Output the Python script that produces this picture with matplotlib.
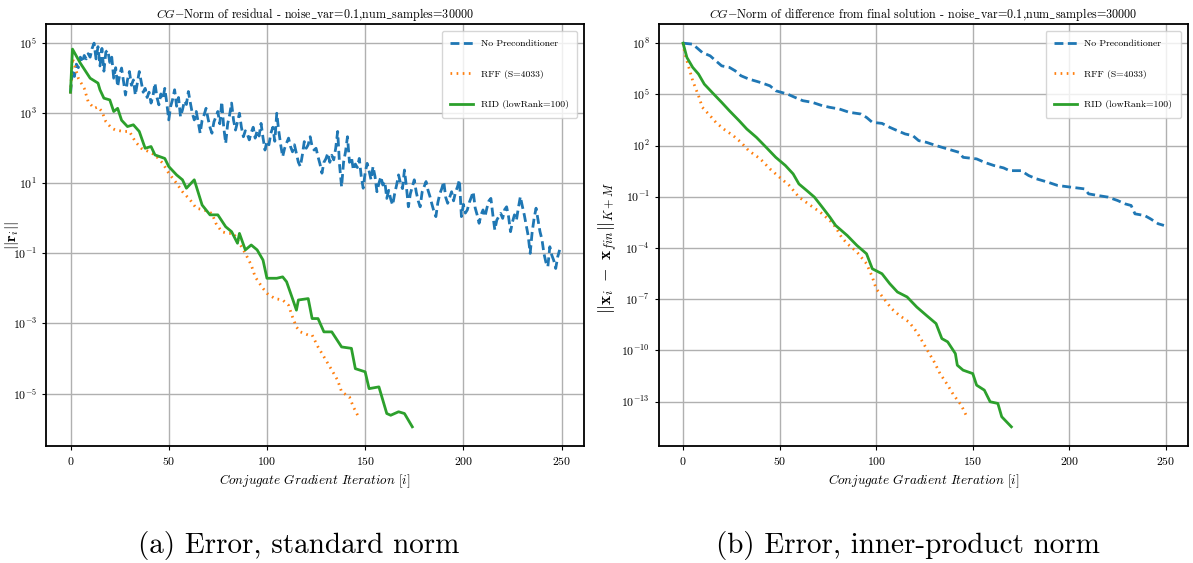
import matplotlib
matplotlib.use("Agg")
import matplotlib.pyplot as plt
import numpy as np
from matplotlib.ticker import FixedLocator, NullLocator

plt.rcParams['font.family'] = ['cmr10', 'DejaVu Serif']
plt.rcParams['mathtext.fontset'] = 'cm'
plt.rcParams['axes.formatter.use_mathtext'] = True
plt.rcParams['axes.unicode_minus'] = False

# ---- data (log10 of the norm) ----
# (a) residual norm, no preconditioner: one value per CG iteration 0..249
res_none_log = [
    3.57, 4.25, 4.05, 4.40, 4.30, 4.60, 4.45, 4.65, 4.55, 4.70,
    4.60, 4.85, 5.00, 4.55, 4.90, 4.35, 4.85, 4.20, 4.75, 4.80,
    4.45, 4.60, 4.00, 4.30, 3.76, 4.10, 4.29, 3.90, 3.52, 3.95,
    4.19, 3.80, 3.95, 3.52, 3.85, 4.19, 3.90, 3.60, 3.71, 3.45,
    3.60, 3.29, 3.50, 3.86, 3.45, 3.24, 3.55, 3.40, 3.71, 3.30,
    2.81, 3.20, 3.40, 3.67, 3.20, 3.45, 2.90, 3.10, 3.35, 3.25,
    3.62, 3.30, 3.00, 2.81, 3.05, 2.75, 2.43, 2.80, 2.95, 3.14,
    2.85, 2.60, 2.43, 2.75, 2.90, 3.05, 2.70, 3.33, 2.60, 2.14,
    2.70, 2.95, 3.29, 2.80, 2.52, 2.75, 3.00, 2.60, 2.33, 2.50,
    2.40, 2.24, 2.45, 2.60, 2.29, 2.50, 2.35, 2.71, 2.30, 1.95,
    2.20, 2.10, 2.43, 2.60, 2.20, 3.00, 2.50, 2.10, 1.76, 2.00,
    2.15, 2.29, 2.05, 1.90, 2.10, 1.85, 1.60, 1.48, 1.80, 2.19,
    2.00, 2.10, 2.33, 2.05, 1.95, 2.00, 1.76, 1.55, 1.29, 1.60,
    1.70, 1.86, 1.60, 1.80, 1.67, 2.00, 2.48, 1.50, 0.90, 1.60,
    1.90, 2.33, 1.60, 1.75, 1.38, 1.55, 1.45, 1.71, 1.20, 0.86,
    1.30, 1.57, 1.35, 1.10, 1.48, 1.20, 0.76, 1.00, 1.19, 0.95,
    1.05, 0.57, 0.80, 0.55, 0.38, 0.70, 0.95, 1.24, 1.00, 0.85,
    1.38, 0.90, 0.33, 0.70, 0.90, 1.10, 0.75, 0.50, 0.33, 0.75,
    0.90, 1.05, 0.80, 0.62, 0.40, 0.20, 0.05, 0.45, 0.70, 0.85,
    1.05, 0.60, 0.43, 0.60, 0.76, 0.50, 0.75, 0.90, 1.10, 0.05,
    0.40, 0.15, 0.24, 0.45, 0.60, 0.76, 0.30, 0.10, -0.14, 0.10,
    0.24, 0.05, 0.30, 0.50, 0.57, 0.10, -0.33, -0.05, 0.05, 0.14,
    0.00, 0.25, 0.33, 0.05, -0.38, -0.10, 0.10, -0.05, 0.30, 0.62,
    0.35, 0.10, -0.20, -0.50, -1.00, -0.40, 0.00, 0.29, -0.05, -0.38,
    -0.60, -1.00, -1.25, -1.38, -0.81, -1.05, -1.20, -1.43, -1.10, -0.90,
]

res_rff_it = [0, 1, 4, 7, 9, 12, 14, 16, 18, 21, 23, 27, 30, 33, 36, 40, 43, 47,
              50, 54, 57, 61, 64, 68, 72, 74, 77, 80, 83, 86, 89, 92, 94, 98,
              100, 104, 108, 111, 113, 115, 117, 121, 123, 126, 129, 133, 136,
              138, 142, 144, 147]
res_rff_log = [3.57, 4.57, 4.00, 3.71, 3.33, 3.14, 3.18, 3.05, 2.76, 2.57, 2.52,
               2.48, 2.48, 2.19, 2.00, 1.90, 1.81, 1.57, 1.29, 1.00, 0.76, 0.52,
               0.29, 0.24, 0.14, -0.14, -0.38, -0.43, -0.43, -0.71, -1.00, -1.33,
               -1.67, -2.00, -2.14, -2.29, -2.33, -2.48, -2.81, -3.10, -3.24,
               -3.33, -3.33, -3.67, -3.95, -4.33, -4.62, -4.95, -5.10, -5.38,
               -5.71]

res_rid_it = [0, 1, 5, 10, 14, 15, 17, 20, 22, 24, 26, 29, 32, 35, 38, 41, 43, 48,
              50, 54, 57, 59, 63, 67, 71, 75, 79, 82, 85, 86, 89, 92, 95, 98,
              100, 105, 108, 110, 113, 115, 116, 121, 123, 126, 129, 133, 138,
              143, 145, 150, 152, 157, 161, 163, 167, 170, 174]
res_rid_log = [3.60, 4.83, 4.43, 4.00, 3.86, 3.67, 3.43, 3.38, 3.05, 3.14, 2.80,
               2.62, 2.67, 2.48, 2.00, 2.05, 1.81, 1.71, 1.48, 1.24, 1.10, 0.86,
               1.10, 0.38, 0.10, 0.10, -0.24, -0.38, -0.71, -0.43, -0.90, -0.76,
               -0.90, -1.19, -1.71, -1.71, -1.67, -1.81, -2.29, -2.62, -2.33,
               -2.29, -2.86, -2.86, -3.24, -3.24, -3.67, -3.71, -4.29, -4.38,
               -4.86, -4.81, -5.57, -5.62, -5.52, -5.57, -5.95]

# (b) distance to final solution in the K+M norm
dif_none_it = [0, 5, 10, 14, 16, 20, 24, 27, 30, 34, 40, 45, 48, 54, 58, 62, 67,
               72, 76, 81, 86, 92, 95, 98, 103, 107, 111, 115, 119, 122, 126,
               131, 137, 143, 145, 152, 156, 161, 166, 169, 175, 179, 183, 189,
               194, 201, 208, 210, 215, 220, 225, 229, 232, 234, 239, 242, 246,
               249]
dif_none_log = [8.00, 7.94, 7.45, 7.26, 7.06, 6.67, 6.58, 6.38, 6.09, 5.90, 5.70,
                5.50, 5.21, 5.02, 4.82, 4.63, 4.53, 4.34, 4.24, 4.14, 3.95, 3.85,
                3.65, 3.36, 3.30, 3.07, 2.87, 2.68, 2.58, 2.29, 2.19, 2.00, 1.80,
                1.60, 1.31, 1.22, 1.02, 0.83, 0.69, 0.53, 0.53, 0.24, 0.05, -0.15,
                -0.34, -0.44, -0.54, -0.83, -0.93, -1.02, -1.22, -1.42, -1.51,
                -2.00, -2.10, -2.29, -2.58, -2.68]

dif_rff_it = [0, 1, 3, 5, 8, 10, 14, 17, 21, 26, 30, 34, 40, 45, 50, 55, 60, 66,
              71, 76, 79, 82, 85, 90, 95, 98, 100, 104, 108, 112, 117, 121, 124,
              127, 130, 133, 137, 140, 144, 147]
dif_rff_log = [8.00, 7.36, 6.58, 5.80, 4.92, 4.24, 3.75, 3.36, 2.97, 2.58, 2.19,
               1.70, 1.22, 0.63, 0.14, -0.34, -1.02, -1.51, -1.90, -2.39, -2.78,
               -3.36, -3.75, -4.23, -4.92, -5.70, -6.39, -6.97, -7.56, -7.95,
               -8.34, -8.92, -9.50, -10.09, -10.67, -11.35, -12.03, -12.60,
               -13.20, -13.90]

dif_rid_it = [0, 2, 5, 8, 11, 15, 20, 24, 29, 33, 38, 43, 48, 53, 57, 60, 64, 68,
              72, 76, 79, 85, 90, 95, 98, 103, 107, 111, 116, 121, 126, 131, 134,
              137, 141, 142, 145, 150, 152, 156, 159, 163, 165, 170]
dif_rid_log = [8.00, 7.16, 6.58, 6.19, 5.60, 5.12, 4.53, 4.04, 3.46, 2.97, 2.48,
               1.90, 1.31, 0.83, 0.34, -0.25, -0.63, -1.02, -1.60, -2.19, -2.68,
               -3.27, -3.85, -4.34, -5.22, -5.51, -6.09, -6.58, -6.87, -7.46,
               -7.95, -8.43, -9.31, -9.50, -10.19, -10.87, -11.16, -11.36, -12.04,
               -12.33, -13.01, -13.11, -13.89, -14.48]

labels = ['No Preconditioner', 'RFF (S=4033)', 'RID (lowRank=100)']
titles = [r'$CG{-}$Norm of residual - noise$\_$var=0.1,num$\_$samples=30000',
          r'$CG{-}$Norm of difference from final solution - noise$\_$var=0.1,num$\_$samples=30000']
ylabels = [r'$||\mathbf{r}_i||$', r'$||\mathbf{x}_i\ -\ \mathbf{x}_{fin}||_{K+M}$']
captions = ['(a) Error, standard norm', '(b) Error, inner-product norm']
left_yticks = [1e-5, 1e-3, 1e-1, 1e1, 1e3, 1e5]
right_yticks = [1e-13, 1e-10, 1e-7, 1e-4, 1e-1, 1e2, 1e5, 1e8]
xticks = [0, 50, 100, 150, 200, 250]

colors = ['#1f77b4', '#ff7f0e', '#2ca02c']

fig = plt.figure(figsize=(11.93, 5.63), dpi=100)
ax1 = fig.add_axes([0.0386, 0.2078, 0.451, 0.7496])
ax2 = fig.add_axes([0.5524, 0.2078, 0.4434, 0.7496])

series = [
    (ax1, [(np.arange(len(res_none_log)), res_none_log),
           (res_rff_it, res_rff_log),
           (res_rid_it, res_rid_log)], left_yticks, (-0.046, 0.5), 11),
    (ax2, [(dif_none_it, dif_none_log),
           (dif_rff_it, dif_rff_log),
           (dif_rid_it, dif_rid_log)], right_yticks, (-0.074, 0.47), 12.5),
]
styles = [dict(ls=(0, (3.2, 1.6))), dict(ls=(0, (0.6, 1.6))), dict(ls='-')]

for k, (ax, lines, yt, lab_xy, lab_fs) in enumerate(series):
    for (it, lg), lab, c, st in zip(lines, labels, colors, styles):
        ax.plot(it, 10.0 ** np.asarray(lg), color=c, lw=2, label=lab, **st)
    ax.set_yscale('log')
    ax.yaxis.set_major_locator(FixedLocator(yt))
    ax.yaxis.set_minor_locator(NullLocator())
    ax.set_xticks(xticks)
    ax.grid(True, color='#b0b0b0', lw=1)
    ax.set_axisbelow(True)
    for sp in ax.spines.values():
        sp.set_linewidth(1.3)
    ax.tick_params(labelsize=8.5, length=3)
    ax.set_title(titles[k], fontsize=8.7, pad=4)
    ax.set_ylabel(ylabels[k], fontsize=lab_fs)
    ax.yaxis.set_label_coords(*lab_xy)
    ax.set_xlabel(r'$\mathit{Conjugate\ Gradient\ Iteration}\ [i]$', fontsize=9.5, labelpad=4)
    ax.legend(loc='upper right', fontsize=7, labelspacing=2.2, handlelength=2.3,
              borderpad=0.9, framealpha=0.8, borderaxespad=0.7)

fig.text(0.25, 0.006, captions[0], fontsize=21, ha='center', va='bottom')
fig.text(0.761, 0.006, captions[1], fontsize=21, ha='center', va='bottom')

fig.savefig('out.png', dpi=100)
